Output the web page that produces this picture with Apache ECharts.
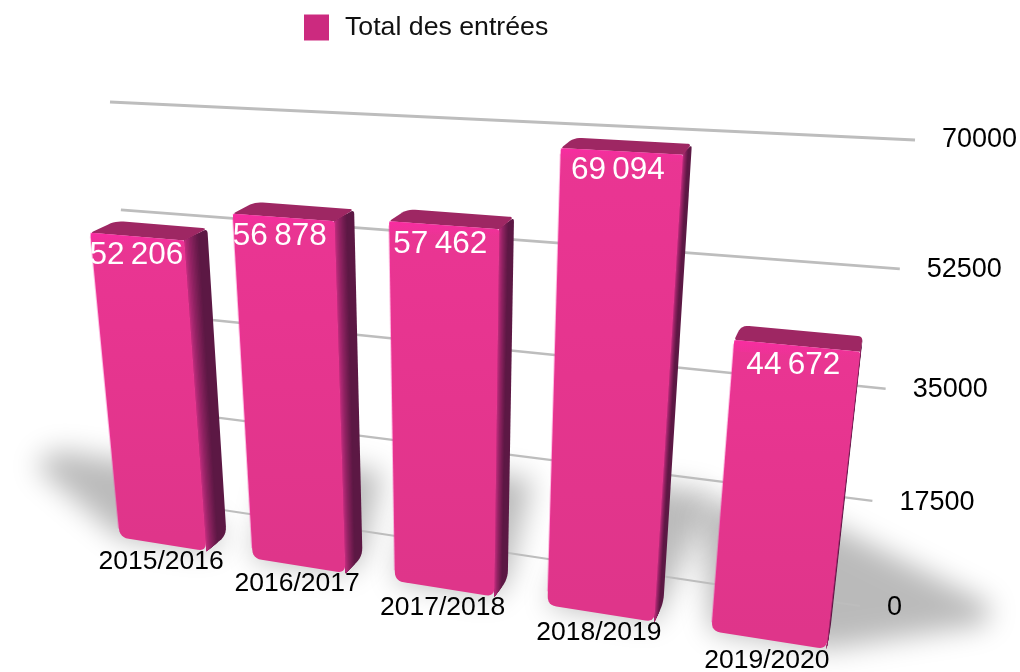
<!DOCTYPE html>
<html><head><meta charset="utf-8">
<style>html,body{margin:0;padding:0;background:#fff}#c{width:1020px;height:672px}</style>
<script src="https://cdn.jsdelivr.net/npm/echarts@6/dist/echarts.min.js"></script>
</head><body><div id="c"></div>
<script>
const seriesName = 'Total des entrées';
const categories = ['2015/2016','2016/2017','2017/2018','2018/2019','2019/2020'];
const entrees = [52206,56878,57462,69094,44672];
const tickValues = [0,17500,35000,52500,70000];

// perspective planes: corners in order (u0,v0),(u1,v0),(u1,v1),(u0,v1)
const frontPlane = [[98,534],[857,654],[918,160],[55,115]];
const backPlane  = [[120,519],[860,634],[918,149],[82,105]];
const wallPlane  = [[150,499],[860,606],[915,140],[110,102]];
const barFraction = 0.66;
// floor shadow sweep of each bar
const shadowSweep = [[[-85,-72]],[[20,-85]],[[25,-100]],[[50,-110]],[[160,-25],[-10,-110],[40,-70]]];

function quadMap(q){
  const [x0,y0]=q[0],[x1,y1]=q[1],[x2,y2]=q[2],[x3,y3]=q[3];
  const sx=x0-x1+x2-x3, sy=y0-y1+y2-y3, dx1=x1-x2, dx2=x3-x2, dy1=y1-y2, dy2=y3-y2;
  const den=dx1*dy2-dx2*dy1, g=(sx*dy2-dx2*sy)/den, h=(dx1*sy-sx*dy1)/den;
  const a=x1-x0+g*x1,b=x3-x0+h*x3,d=y1-y0+g*y1,e=y3-y0+h*y3;
  return (u,v)=>{const w=g*u+h*v+1;return [(a*u+b*v+x0)/w,(d*u+e*v+y0)/w];};
}
const front=quadMap(frontPlane), back=quadMap(backPlane), wall=quadMap(wallPlane);
const lerp=(p,q,t)=>[p[0]+(q[0]-p[0])*t,p[1]+(q[1]-p[1])*t];

function rounded(pts,rs){
  const out=[],n=pts.length;
  for(let i=0;i<n;i++){
    const p=pts[i],a=pts[(i+n-1)%n],b=pts[(i+1)%n],r=Array.isArray(rs)?rs[i]:rs;
    const la=Math.hypot(a[0]-p[0],a[1]-p[1]),lb=Math.hypot(b[0]-p[0],b[1]-p[1]);
    const ra=Math.min(r/la,.5),rb=Math.min(r/lb,.5);
    const s=lerp(p,a,ra),t=lerp(p,b,rb);
    for(let k=0;k<=6;k++){const q=k/6,m=1-q;
      out.push([m*m*s[0]+2*m*q*p[0]+q*q*t[0],m*m*s[1]+2*m*q*p[1]+q*q*t[1]]);}
  }
  return out;
}
function hull(P){
  const pts=P.slice().sort((a,b)=>a[0]-b[0]||a[1]-b[1]);
  const cr=(o,a,b)=>(a[0]-o[0])*(b[1]-o[1])-(a[1]-o[1])*(b[0]-o[0]);
  const lo=[],up=[];
  for(const p of pts){while(lo.length>1&&cr(lo[lo.length-2],lo[lo.length-1],p)<=0)lo.pop();lo.push(p);}
  for(const p of pts.slice().reverse()){while(up.length>1&&cr(up[up.length-2],up[up.length-1],p)<=0)up.pop();up.push(p);}
  return lo.slice(0,-1).concat(up.slice(0,-1));
}
function frame(params,api,i,val){
  const cs=params.coordSys, c=api.coord([i,val]), c0=api.coord([i,0]), band=api.size([1,0])[0];
  const ul=(c[0]-cs.x-band*barFraction/2)/cs.width, ur=(c[0]-cs.x+band*barFraction/2)/cs.width;
  const vt=(cs.y+cs.height-c[1])/cs.height, vb=(cs.y+cs.height-c0[1])/cs.height;
  return {ul,ur,vt,vb};
}
function grad(x1,y1,x2,y2,stops){return new echarts.graphic.LinearGradient(x1,y1,x2,y2,stops,true);}
function mix(a,b,t){return 'rgb('+a.map((c,k)=>Math.round(c+(b[k]-c)*t)).join(',')+')';}

function renderShadow(params,api){
  const i=api.value(0),f=frame(params,api,i,api.value(1));
  const base=[front(f.ul,f.vb),front(f.ur,f.vb),back(f.ur,f.vb),back(f.ul,f.vb)];
  let all=base.slice();
  shadowSweep[i].forEach(s=>{all=all.concat(base.map(p=>[p[0]+s[0],p[1]+s[1]]));});
  const OFF=3000;
  return {type:'polygon',silent:true,shape:{points:hull(all).map(p=>[p[0]-OFF,p[1]])},
    style:{fill:'#000',shadowColor:'rgba(0,0,0,0.27)',shadowBlur:28,shadowOffsetX:OFF,shadowOffsetY:0}};
}
function renderGrid(params,api){
  const cs=params.coordSys,y=api.coord([0,api.value(0)])[1],v=(cs.y+cs.height-y)/cs.height;
  return {type:'polyline',shape:{points:[wall(0,v),wall(1,v)]},style:{stroke:'#bdbdbd',lineWidth:2+v,fill:null}};
}
function renderTick(params,api){
  const cs=params.coordSys,val=api.value(0),y=api.coord([0,val])[1],v=(cs.y+cs.height-y)/cs.height;
  const e=wall(1,v);
  return {type:'text',style:{x:e[0]+27,y:e[1]+2-2*v,text:String(val),fill:'#000',align:'left',verticalAlign:'middle',
    font:'27px "Liberation Sans"'}};
}
function renderBar(params,api){
  const i=api.value(0),f=frame(params,api,i,api.value(1));
  const FLt=front(f.ul,f.vt),FRt=front(f.ur,f.vt),FRb=front(f.ur,f.vb),FLb=front(f.ul,f.vb);
  const BLt=back(f.ul,f.vt),BRt=back(f.ur,f.vt),BRb=back(f.ur,f.vb);
  const children=[];
  const sideDark=[92,24,68], sideLight=[200,46,130];
  const sil=rounded([FRt,BRt,BRb,FRb],[0,5,9,9]);
  children.push({type:'polygon',shape:{points:sil},style:{fill:mix(sideDark,sideDark,0)}});
  const N=10;
  const endT=0.62; // shading is finished this far across the side face
  for(let k=N-1;k>=0;k--){
    const t=(k+1)/N*endT;
    children.push({type:'polygon',shape:{points:[FRt,lerp(FRt,BRt,t),lerp(FRb,BRb,t*.9),FRb]},
      style:{fill:mix(sideLight,sideDark,Math.pow((k+.5)/N,.7))}});
  }
  children.push({type:'polygon',shape:{points:rounded([FLt,BLt,BRt,FRt],[3,8,5,0])},style:{fill:'#9e2763'}});
  children.push({type:'polygon',shape:{points:rounded([FLt,FRt,FRb,FLb],[3,3,9,9])},
    style:{fill:grad(0,FLt[1],0,FLb[1],[{offset:0,color:'#ea3593'},{offset:.5,color:'#e5358e'},{offset:1,color:'#df358a'}])}});
  const tEdge=11/Math.hypot(FLb[0]-FLt[0],FLb[1]-FLt[1]);
  children.push({type:'polygon',shape:{points:[FLt,FRt,lerp(FRt,FRb,tEdge),lerp(FLt,FLb,tEdge)]},
    style:{fill:grad(0,FLt[1],0,lerp(FLt,FLb,tEdge)[1]+(FRt[1]-FLt[1])/2,[{offset:0,color:'rgba(255,40,168,0.7)'},{offset:1,color:'rgba(255,40,168,0)'}])}});
  children.push({type:'polyline',shape:{points:[lerp(FLt,FLb,.012),lerp(FLb,FLt,.03)]},style:{stroke:'rgba(247,45,160,0.3)',lineWidth:2,fill:null}});
  return {type:'group',children};
}
function renderLabels(params,api){
  const i=api.value(0),val=api.value(1),f=frame(params,api,i,val);
  const a=front(f.ul,f.vt),b=front(f.ur,f.vt),c=front(f.ul,f.vb),d=front(f.ur,f.vb);
  const s=String(val);
  return {type:'group',children:[
    {type:'text',style:{x:(a[0]+b[0])/2-(i===0?1:4),y:(a[1]+b[1])/2+19,text:s.slice(0,-3)+'\u2009'+s.slice(-3),fill:'#fff',align:'center',verticalAlign:'middle',font:'31.5px "Liberation Sans"'}},
    {type:'text',style:{x:(c[0]+d[0])/2-2,y:(c[1]+d[1])/2+17+i*0.8,text:categories[i],fill:'#000',align:'center',verticalAlign:'middle',font:'26.5px "Liberation Sans"'}}
  ]};
}
const barData=entrees.map((v,i)=>[i,v]);
const tickData=tickValues.map(v=>[v]);
const chart=echarts.init(document.getElementById('c'),null,{renderer:'canvas'});
chart.setOption({
  animation:false,
  backgroundColor:'#fff',
  legend:{show:true,left:304,top:14,padding:0,itemWidth:25,itemHeight:26,icon:'rect',
    data:[seriesName],itemStyle:{color:'#cc2a7f'},
    textStyle:{color:'#111',fontSize:26.7,fontFamily:'Liberation Sans',padding:[2,0,0,11]}},
  grid:{left:100,right:100,top:100,bottom:100},
  xAxis:{type:'category',data:categories,show:false},
  yAxis:{type:'value',min:0,max:70000,interval:17500,show:false},
  series:[
    {type:'custom',coordinateSystem:'cartesian2d',data:barData,renderItem:renderShadow,encode:{x:0,y:1},silent:true,z:1},
    {type:'custom',coordinateSystem:'cartesian2d',data:tickData,renderItem:renderGrid,encode:{y:0},silent:true,z:2},
    {type:'custom',coordinateSystem:'cartesian2d',data:tickData,renderItem:renderTick,encode:{y:0},silent:true,z:3},
    {name:seriesName,type:'custom',coordinateSystem:'cartesian2d',data:barData,renderItem:renderBar,encode:{x:0,y:1},itemStyle:{color:'#cc2a7f'},z:4},
    {type:'custom',coordinateSystem:'cartesian2d',data:barData,renderItem:renderLabels,encode:{x:0,y:1},silent:true,z:5}
  ]
});
</script></body></html>
